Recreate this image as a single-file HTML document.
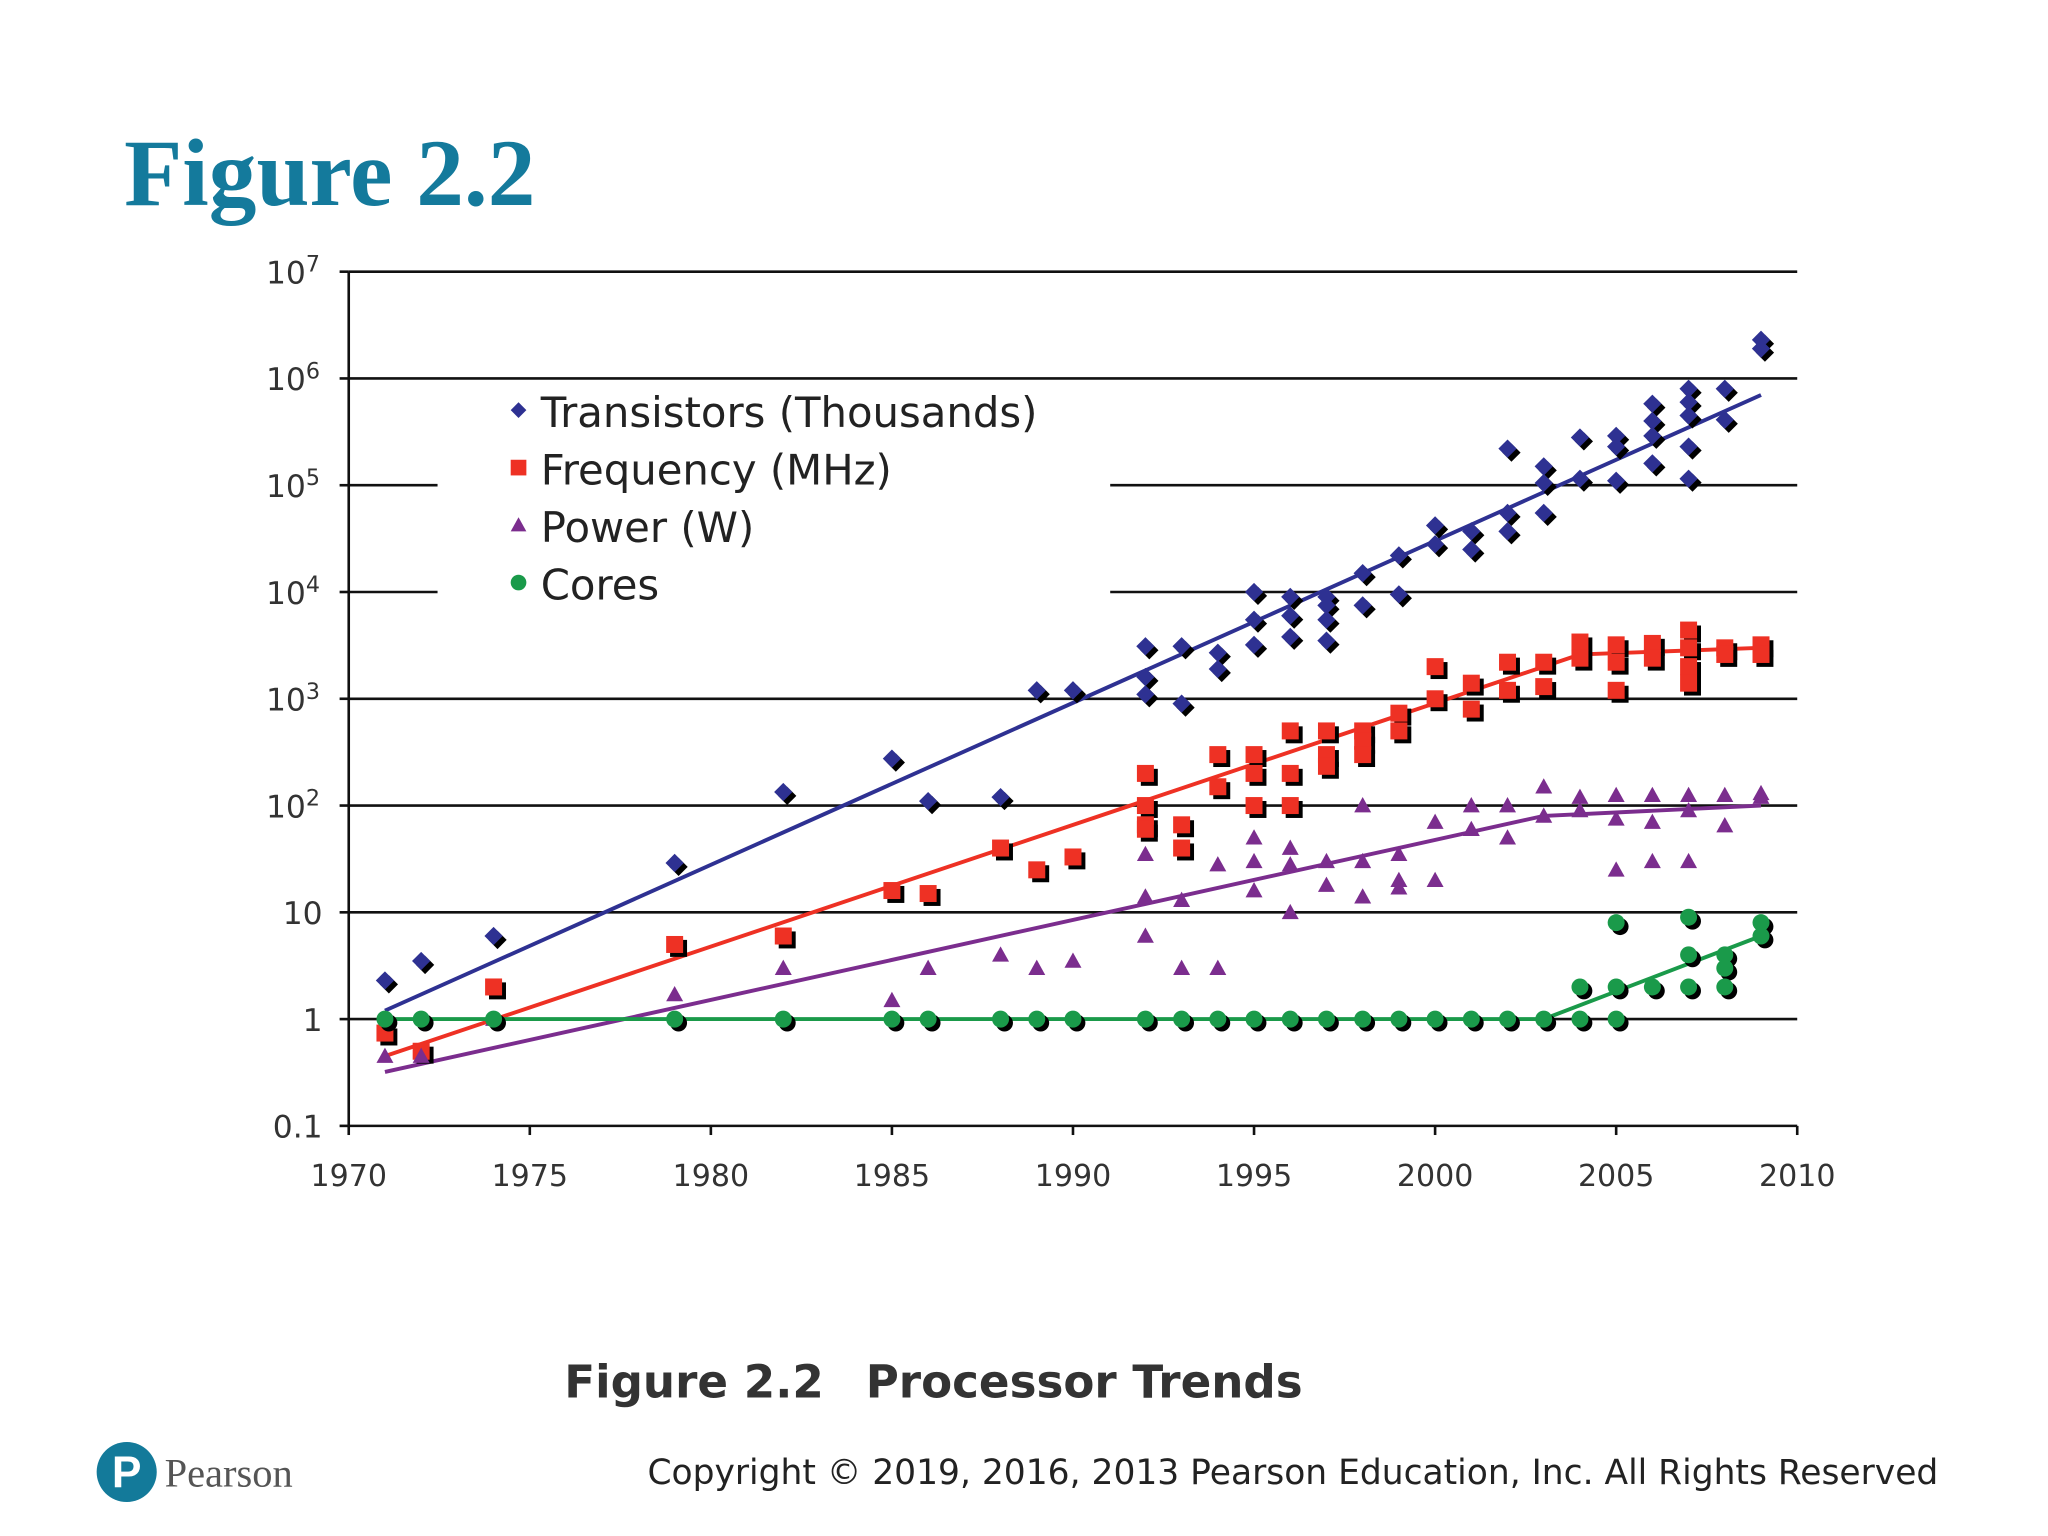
<!DOCTYPE html>
<html><head><meta charset="utf-8"><style>
html,body{margin:0;padding:0;background:#fff;}
svg{display:block;}
</style></head><body>
<svg id="chart" width="2048" height="1536" viewBox="0 0 1568 1176" xmlns="http://www.w3.org/2000/svg">
<text x="95" y="157" font-family="Liberation Serif, serif" font-weight="bold" font-size="73" fill="#147a9c">Figure 2.2</text>
<g id="grid"></g>
<g id="axes"></g>
<g id="trends"></g>
<g id="marks"></g>
<g id="legend" font-family="DejaVu Sans, sans-serif" font-size="32" fill="#222"></g>
<text x="432" y="1070" font-family="DejaVu Sans, sans-serif" font-weight="bold" font-size="34.6" fill="#333">Figure 2.2 <tspan dx="20">Processor Trends</tspan></text>
<g>
<circle cx="97" cy="1127" r="23" fill="#137a9a"/>
<text x="97" y="1139" text-anchor="middle" font-family="Liberation Sans, sans-serif" font-weight="bold" font-size="34" fill="#fff">P</text>
<text x="126" y="1138" font-family="Liberation Serif, serif" font-size="31" fill="#555">Pearson</text>
</g>
<text x="1484" y="1136" text-anchor="end" font-family="DejaVu Sans, sans-serif" font-size="26.4" fill="#222">Copyright © 2019, 2016, 2013 Pearson Education, Inc. All Rights Reserved</text>
</svg>
<script>
const xTicks=[1970,1975,1980,1985,1990,1995,2000,2005,2010];
const yExps=[-1,0,1,2,3,4,5,6,7];
const yLabels=["0.1","1","10","10|2","10|3","10|4","10|5","10|6","10|7"];
const trYears=[1971,1972,1974,1979,1982,1985,1986,1988,1989,1990,1992,1992,1992,1993,1993,1994,1994,1995,1995,1995,1996,1996,1996,1997,1997,1997,1997,1998,1998,1999,1999,2000,2000,2001,2001,2002,2002,2002,2003,2003,2003,2004,2004,2005,2005,2005,2006,2006,2006,2006,2007,2007,2007,2007,2007,2008,2008,2009,2009];
const trVals=[2.3,3.5,6,29,134,275,110,120,1200,1200,3100,1600,1100,3100,900,2700,1900,10000,5500,3200,9000,6000,3800,9000,7500,5500,3500,15000,7500,22000,9500,42000,28000,37000,25000,220000,55000,37000,150000,105000,55000,280000,115000,290000,230000,110000,580000,400000,290000,160000,800000,600000,450000,230000,115000,800000,410000,2300000,1900000];
const frYears=[1971,1972,1974,1979,1982,1985,1986,1988,1989,1990,1992,1992,1992,1992,1993,1993,1994,1994,1995,1995,1995,1996,1996,1996,1997,1997,1997,1998,1998,1998,1999,1999,2000,2000,2001,2001,2002,2002,2003,2003,2004,2004,2005,2005,2005,2006,2006,2007,2007,2007,2007,2008,2008,2009,2009];
const frVals=[0.74,0.5,2,5,6,16,15,40,25,33,200,100,66,60,66,40,300,150,300,200,100,500,200,100,500,300,233,500,400,300,733,500,2000,1000,1400,800,2200,1200,2200,1300,3400,2400,3200,1200,2200,3300,2400,4400,3000,2000,1400,3000,2600,3200,2600];
const pwYears=[1971,1972,1974,1979,1982,1985,1986,1988,1989,1990,1992,1992,1992,1993,1993,1994,1994,1995,1995,1995,1996,1996,1996,1997,1997,1998,1998,1998,1999,1999,1999,2000,2000,2001,2001,2002,2002,2003,2003,2004,2004,2005,2005,2005,2006,2006,2006,2007,2007,2007,2008,2008,2009,2009];
const pwVals=[0.45,0.45,1,1.7,3,1.5,3,4,3,3.5,35,14,6,13,3,3,28,50,30,16,40,28,10,30,18,100,30,14,35,20,17,70,20,100,60,100,50,150,80,120,90,125,75,25,125,70,30,125,90,30,125,65,130,120];
const coYears=[1971,1972,1974,1979,1982,1985,1986,1988,1989,1990,1992,1993,1994,1995,1996,1997,1998,1999,2000,2001,2002,2003,2004,2005,2004,2005,2005,2006,2007,2007,2007,2008,2008,2008,2009,2009];
const coVals=[1,1,1,1,1,1,1,1,1,1,1,1,1,1,1,1,1,1,1,1,1,1,1,1,2,2,8,2,9,4,2,4,3,2,8,6];
const trTrendX=[1971,2009], trTrendY=[1.2,700000];
const frTrendX=[1971,2004,2009], frTrendY=[0.45,2600,3000];
const pwTrendX=[1971,2003,2009], pwTrendY=[0.32,80,100];
const coTrendX=[1971,2003,2009], coTrendY=[1,1,6];

const NS="http://www.w3.org/2000/svg";
const X=y=>267+(y-1970)*(1376-267)/40;
const Y=v=>862-(Math.log10(v)+1)*(862-208)/8;
function mk(tag,attrs,parent){const e=document.createElementNS(NS,tag);for(const k in attrs)e.setAttribute(k,attrs[k]);parent.appendChild(e);return e;}
const grid=document.getElementById('grid'),axes=document.getElementById('axes'),marks=document.getElementById('marks'),trends=document.getElementById('trends'),legend=document.getElementById('legend');
yExps.forEach((ex,i)=>{const y=Y(Math.pow(10,ex));
 if(ex>=0){
  if(ex===4||ex===5){
   let a=mk('line',{x1:267,x2:335,y1:y,y2:y,stroke:'#111','stroke-width':2},grid);
   let b=mk('line',{x1:850,x2:1376,y1:y,y2:y,stroke:'#111','stroke-width':2},grid);
  } else {let l=mk('line',{x1:267,x2:1376,y1:y,y2:y,stroke:'#111','stroke-width':2},grid);}
 }
 mk('line',{x1:260,x2:267,y1:y,y2:y,stroke:'#111','stroke-width':2},axes);
 const t=mk('text',{x:247,y:y+9,'text-anchor':'end','font-family':'DejaVu Sans, sans-serif','font-size':24,fill:'#333'},axes);
 
 const parts=yLabels[i].split('|');
 if(parts.length===2){t.setAttribute('x',245);const a=document.createElementNS(NS,'tspan');a.textContent=parts[0];t.appendChild(a);const b=document.createElementNS(NS,'tspan');b.setAttribute('dy',-9);b.setAttribute('font-size',17);b.textContent=parts[1];t.appendChild(b);}
 else t.textContent=parts[0];
});
mk('line',{x1:267,x2:267,y1:208,y2:862,stroke:'#111','stroke-width':2},axes);
mk('line',{x1:267,x2:1376,y1:862,y2:862,stroke:'#111','stroke-width':2},axes);
xTicks.forEach(v=>{mk('line',{x1:X(v),x2:X(v),y1:862,y2:869,stroke:'#111','stroke-width':2},axes);
 const t=mk('text',{x:X(v),y:908,'text-anchor':'middle','font-family':'DejaVu Sans, sans-serif','font-size':23,fill:'#333'},axes);
 t.textContent=v;});
function trend(xs,ys,col,name){const p=xs.map((x,i)=>X(x)+','+Y(ys[i])).join(' ');
 const l=mk('polyline',{points:p,fill:'none',stroke:col,'stroke-width':3},trends);}
function marker(shape,x,y,col,g,s){
 if(shape==='d')return mk('polygon',{points:`${x},${y-s} ${x+s},${y} ${x},${y+s} ${x-s},${y}`,fill:col},g);
 if(shape==='s')return mk('rect',{x:x-s,y:y-s,width:2*s,height:2*s,fill:col},g);
 if(shape==='t')return mk('polygon',{points:`${x},${y-s} ${x+s},${y+s*0.8} ${x-s},${y+s*0.8}`,fill:col},g);
 return mk('circle',{cx:x,cy:y,r:s,fill:col},g);}
function series(xs,vs,shape,col,name,s){const g=mk('g',{},marks);
 xs.forEach((x,i)=>{const px=X(x),py=Y(vs[i]);if(shape!=='t')marker(shape,px+3,py+3,'#000',g,s);const m=marker(shape,px,py,col,g,s);});}
trend(trTrendX,trTrendY,'#2e3192','transistors-trend');
trend(frTrendX,frTrendY,'#ee3124','frequency-trend');
trend(pwTrendX,pwTrendY,'#7b2d8e','power-trend');
trend(coTrendX,coTrendY,'#1a9a4a','cores-trend');
series(trYears,trVals,'d','#2e3192','transistors-series',7);
series(frYears,frVals,'s','#ee3124','frequency-series',6.5);
series(pwYears,pwVals,'t','#7b2d8e','power-series',6.5);
series(coYears,coVals,'c','#1a9a4a','cores-series',6.5);
const legItems=[['d','#2e3192','Transistors (Thousands)'],['s','#ee3124','Frequency (MHz)'],['t','#7b2d8e','Power (W)'],['c','#1a9a4a','Cores']];
legItems.forEach((it,i)=>{const y=316+i*44;const g=mk('g',{},legend);
 marker(it[0],397,y-2,it[1],g,6);const t=mk('text',{x:414,y:y+11},g);t.textContent=it[2];});
</script>
</body></html>
